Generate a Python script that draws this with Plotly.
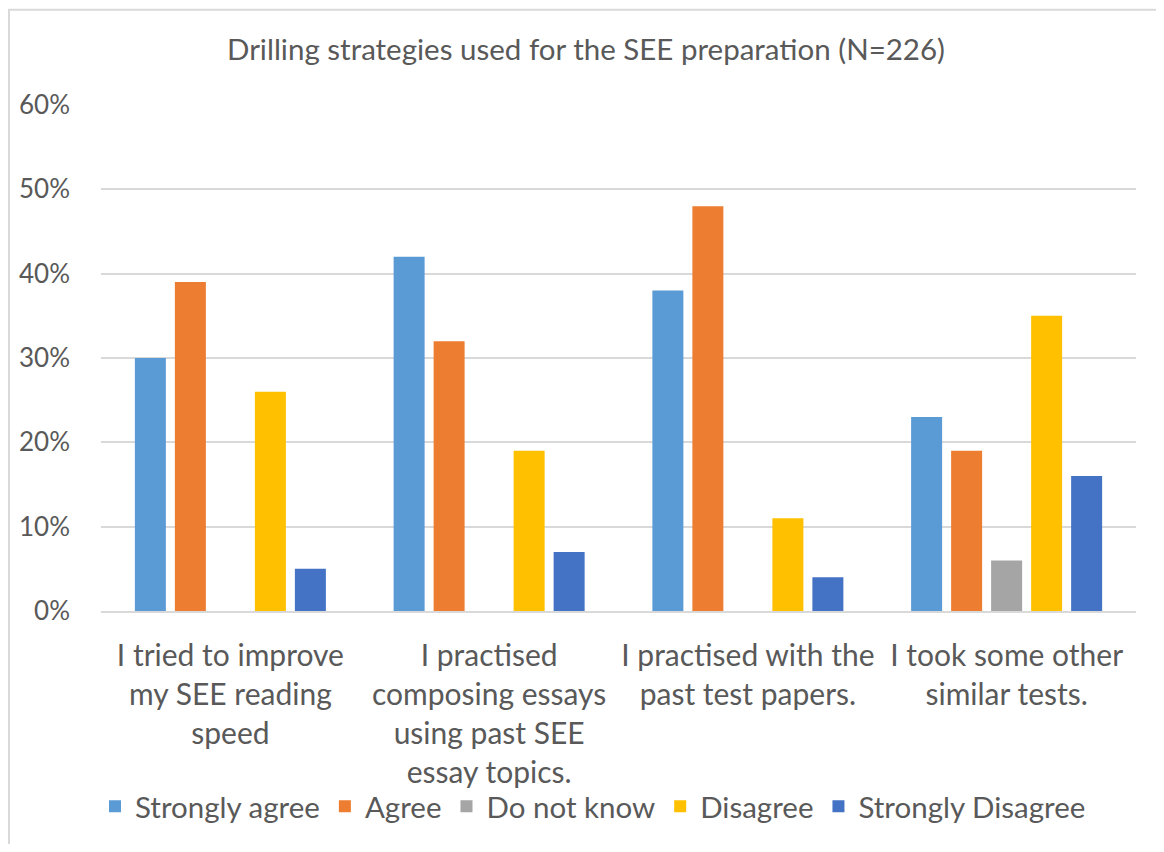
import plotly.graph_objects as go

categories = [
    "I tried to improve<br>my SEE reading<br>speed",
    "I practised<br>composing essays<br>using past SEE<br>essay topics.",
    "I practised with the<br>past test papers.",
    "I took some other<br>similar tests.",
]
series_names = ["Strongly agree", "Agree", "Do not know", "Disagree", "Strongly Disagree"]
strongly_agree = [0.30, 0.42, 0.38, 0.23]
agree = [0.39, 0.32, 0.48, 0.19]
do_not_know = [0.0, 0.0, 0.0, 0.06]
disagree = [0.26, 0.19, 0.11, 0.35]
strongly_disagree = [0.05, 0.07, 0.04, 0.16]
colors = ["#5B9BD5", "#ED7D31", "#A5A5A5", "#FFC000", "#4472C4"]

values = [strongly_agree, agree, do_not_know, disagree, strongly_disagree]

FONT = "Lato, 'Open Sans', sans-serif"
TXT = "#595959"

fig = go.Figure()
for name, vals, col in zip(series_names, values, colors):
    fig.add_trace(go.Bar(name=name, x=categories, y=vals, marker_color=col,
                         marker_line_width=0))

# page body has an 8px margin
OFF = 8
W, H = 1156, 836
ml, mt = 101 - OFF, 105 - OFF
pw = (1136 - OFF) - ml
ph = (615 - OFF) - mt
mr, mb = W - ml - pw, H - mt - ph

fig.update_layout(
    width=W, height=H,
    margin=dict(l=ml, r=mr, t=mt, b=mb),
    paper_bgcolor="white", plot_bgcolor="white",
    font=dict(family=FONT, color=TXT),
    title=dict(text="Drilling strategies used for the SEE preparation (N=226)",
               x=0.5, xanchor="center", y=1 - (50 - OFF) / H, yanchor="middle",
               font=dict(size=29.5, color=TXT, family=FONT)),
    barmode="group", bargap=0.227, bargroupgap=0.225,
    showlegend=True,
    legend=dict(orientation="h", x=(593 - OFF - ml) / pw, xanchor="center",
                y=-((812 - OFF) - (mt + ph)) / ph, bgcolor="rgba(0,0,0,0)",
                yanchor="middle", font=dict(size=29.5, color=TXT), traceorder="normal"),
    yaxis=dict(range=[0, 0.6], dtick=0.1, tickformat=".0%", gridcolor="#D9D9D9",
               gridwidth=1.5, zeroline=False, showline=False,
               tickfont=dict(size=26, color=TXT), ticks="", ticklabelstandoff=30),
    xaxis=dict(showline=True, linecolor="#D9D9D9", linewidth=2, ticks="",
               tickfont=dict(size=30, color=TXT), ticklabelstandoff=17),
    shapes=[dict(type="rect", xref="paper", yref="paper",
                 x0=(9 - OFF - ml) / pw, x1=(1162 - OFF - ml) / pw,
                 y0=(mt + ph - 900) / ph, y1=(mt + ph - 1) / ph,
                 line=dict(color="#D9D9D9", width=2), fillcolor="rgba(0,0,0,0)",
                 layer="below")],
)

fig.write_html("out.html")
